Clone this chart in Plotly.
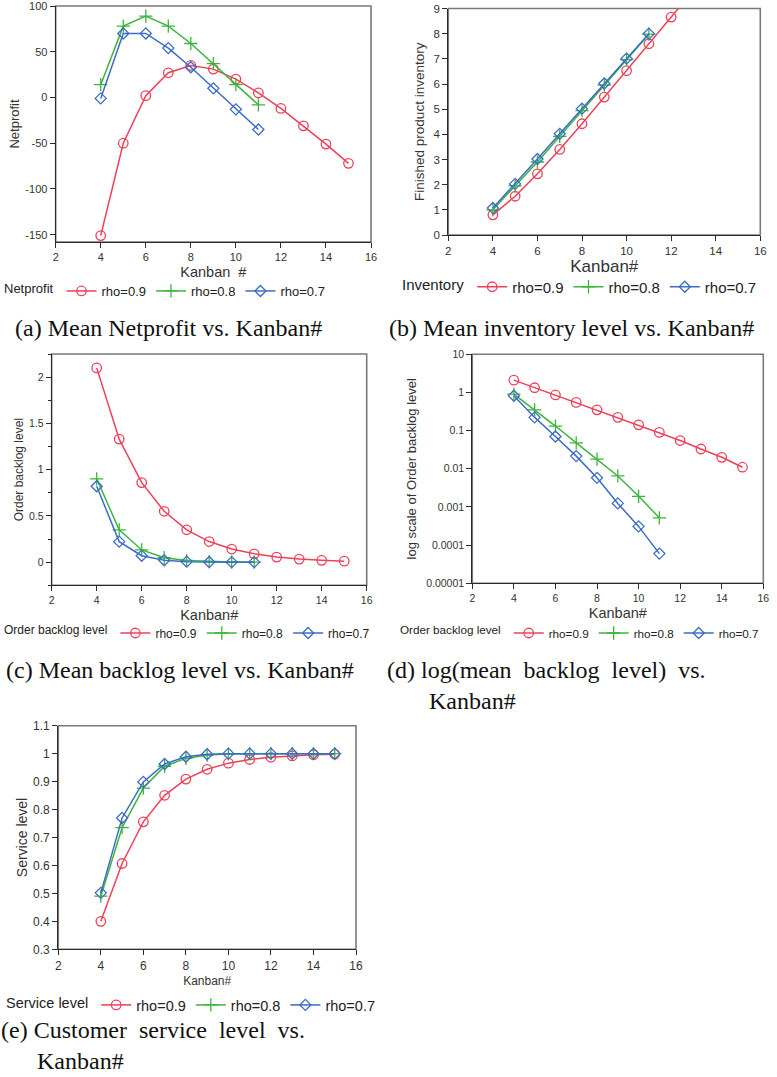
import plotly.graph_objects as go

# ---------------- data ----------------
kanban_long = [4, 5, 6, 7, 8, 9, 10, 11, 12, 13, 14, 15]
kanban_short = [4, 5, 6, 7, 8, 9, 10, 11]
series_names = ["rho=0.9", "rho=0.8", "rho=0.7"]

netprofit_09 = [-151, -50, 2, 27, 35, 31, 20, 5, -12, -31, -51, -72]
netprofit_08 = [14, 78, 89, 78, 59, 37, 14, -8]
netprofit_07 = [-1, 70, 70, 54, 33, 10, -13, -35]

inventory_09 = [0.80, 1.54, 2.43, 3.40, 4.42, 5.48, 6.53, 7.60, 8.66, 9.72, 10.78, 11.84]
inventory_08 = [1.00, 1.95, 2.90, 3.92, 4.94, 5.96, 6.97, 7.98]
inventory_07 = [1.07, 2.03, 3.02, 4.02, 5.02, 6.02, 7.01, 8.00]

backlog_09 = [2.10, 1.33, 0.86, 0.55, 0.35, 0.223, 0.142, 0.090, 0.055, 0.033, 0.020, 0.011]
backlog_08 = [0.90, 0.35, 0.132, 0.048, 0.018, 0.0065, 0.0019, 0.00052]
backlog_07 = [0.82, 0.222, 0.070, 0.0215, 0.0058, 0.00124, 0.00031, 0.00006]

service_09 = [0.400, 0.607, 0.756, 0.851, 0.909, 0.944, 0.966, 0.979, 0.987, 0.992, 0.996, 0.998]
service_08 = [0.490, 0.735, 0.877, 0.955, 0.983, 0.995, 0.999, 1.0, 1.0, 1.0, 1.0, 1.0]
service_07 = [0.502, 0.770, 0.899, 0.963, 0.989, 0.998, 1.0, 1.0, 1.0, 1.0, 1.0, 1.0]

x_ticks = [2, 4, 6, 8, 10, 12, 14, 16]
netprofit_ticks = [-150, -100, -50, 0, 50, 100]
netprofit_ticktext = ["-150", "-100", "-50", "0", "50", "100"]
log_ticks = [1e-5, 1e-4, 1e-3, 1e-2, 1e-1, 1, 10]
log_ticktext = ["0.00001", "0.0001", "0.001", "0.01", "0.1", "1", "10"]

SP = "\u00a0\u00a0"
captions = {
    "a": "(a) Mean Netprofit vs. Kanban#",
    "b": "(b) Mean inventory level vs. Kanban#",
    "c": "(c) Mean backlog level vs. Kanban#",
    "d": "(d) log(mean" + SP + "backlog" + SP + "level)" + SP + "vs.<br>" + "\u00a0" * 7 + "Kanban#",
    "e": "(e) Customer" + SP + "service" + SP + "level" + SP + "vs.<br>" + "\u00a0" * 6 + "Kanban#",
}

# ---------------- styling ----------------
W, H = 777, 1077
SANS = "Liberation Sans, Arial, sans-serif"
SERIF = "Liberation Serif, Times New Roman, serif"
colors = ["#ee4058", "#3db53d", "#3b6cc6"]
symbols = ["circle-open", "cross-thin-open", "diamond-open"]
msizes = [9.5, 9.5, 8.5]


def fx(p):
    return p / W


def fy(p):
    return 1 - p / H


panels = [
    dict(key="a", xs=[kanban_long, kanban_short, kanban_short],
         ys=[netprofit_09, netprofit_08, netprofit_07],
         xpx=(55.7, 371), ypx=(6, 242), yr=[-158, 100], ylog=False,
         ytitle="Netprofit", xtitle="Kanban\u00a0\u00a0#", tfs=11, xtfs=14.5, ytfs=13, ystand=2,
         legtitle="Netprofit", legx=2, legy=291, legfs=13,
         tickvals=netprofit_ticks, ticktext=netprofit_ticktext, minor=None,
         cap=(13, 328)),
    dict(key="b", xs=[kanban_long, kanban_short, kanban_short],
         ys=[inventory_09, inventory_08, inventory_07],
         xpx=(448.3, 760.3), ypx=(8.5, 235), yr=[0, 9], ylog=False,
         ytitle="Finished product inventory", xtitle="Kanban#", tfs=11.5, xtfs=17, ytfs=13.5, ystand=5,
         legtitle="Inventory", legx=400, legy=287, legfs=15,
         tickvals=None, ticktext=None, dtick=1, minor=None,
         cap=(387, 328)),
    dict(key="c", xs=[kanban_long, kanban_short, kanban_short],
         ys=[backlog_09, backlog_08, backlog_07],
         xpx=(51.7, 366.7), ypx=(354, 585.3), yr=[-0.25, 2.25], ylog=False,
         ytitle="Order backlog level", xtitle="Kanban#", tfs=10.5, xtfs=14.5, ytfs=12, ystand=2,
         legtitle="Order backlog level", legx=2, legy=633, legfs=12,
         tickvals=None, ticktext=None, dtick=0.5, minor=0.25,
         cap=(4, 670)),
    dict(key="d", xs=[kanban_long, kanban_short, kanban_short],
         ys=[backlog_09, backlog_08, backlog_07],
         xpx=(472.3, 763.3), ypx=(354.3, 583.3), yr=[-5, 1], ylog=True,
         ytitle="log scale of Order backlog level", xtitle="Kanban#", tfs=10.5, xtfs=14.5, ytfs=13, ystand=6,
         legtitle="Order backlog level", legx=398, legy=633, legfs=11.7,
         tickvals=log_ticks, ticktext=log_ticktext, minor=None,
         cap=(385, 685)),
    dict(key="e", xs=[kanban_long, kanban_long, kanban_long],
         ys=[service_09, service_08, service_07],
         xpx=(58.3, 356), ypx=(725.7, 949.3), yr=[0.3, 1.1], ylog=False,
         ytitle="Service level", xtitle="Kanban#", tfs=12, xtfs=12, ytfs=14, ystand=2,
         legtitle="Service level", legx=4, legy=1005, legfs=14.5,
         tickvals=None, ticktext=None, dtick=0.1, minor=None,
         cap=(-1, 1045)),
]

fig = go.Figure()
layout_updates = {}
shapes = []
annotations = []

for i, p in enumerate(panels):
    n = "" if i == 0 else str(i + 1)
    xa, ya = "x" + n, "y" + n
    leg = "legend" + n
    for s in range(3):
        fig.add_trace(go.Scatter(
            x=p["xs"][s], y=p["ys"][s], name=series_names[s],
            mode="lines+markers", xaxis=xa, yaxis=ya, legend=leg,
            line=dict(color=colors[s], width=1.5),
            marker=dict(symbol=symbols[s], size=msizes[s], color=colors[s],
                        line=dict(width=1.3, color=colors[s])),
        ))
    axis_common = dict(showline=True, linecolor="#2a2a2a", linewidth=1.2,
                       ticks="outside", ticklen=5, tickcolor="#2a2a2a", tickwidth=1,
                       showgrid=False, zeroline=False, mirror=False, automargin=False,
                       ticklabeloverflow="allow",
                       tickfont=dict(family=SANS, size=p["tfs"], color="#333"))
    xaxis = dict(axis_common, domain=[fx(p["xpx"][0]), fx(p["xpx"][1])],
                 range=[2, 16], tickvals=x_ticks, anchor=ya,
                 title=dict(text=p["xtitle"], font=dict(family=SANS, size=p["xtfs"], color="#333"),
                            standoff=4))
    yaxis = dict(axis_common, domain=[fy(p["ypx"][1]), fy(p["ypx"][0])],
                 range=p["yr"], anchor=xa,
                 title=dict(text=p["ytitle"], font=dict(family=SANS, size=p["ytfs"], color="#333"),
                            standoff=p["ystand"]))
    if p["ylog"]:
        yaxis["type"] = "log"
    if p["tickvals"] is not None:
        yaxis["tickvals"] = p["tickvals"]
        yaxis["ticktext"] = p["ticktext"]
    else:
        yaxis["dtick"] = p["dtick"]
        yaxis["tick0"] = 0
    if p["minor"]:
        yaxis["minor"] = dict(dtick=p["minor"], ticks="outside", ticklen=3, tickcolor="#2a2a2a")
    layout_updates["xaxis" + n] = xaxis
    layout_updates["yaxis" + n] = yaxis
    layout_updates[leg] = dict(
        orientation="h", x=fx(p["legx"]), xanchor="left", y=fy(p["legy"]), yanchor="middle",
        title=dict(text=p["legtitle"], side="left", font=dict(family=SANS, size=p["legfs"], color="#222")),
        font=dict(family=SANS, size=p["legfs"], color="#222"),
        bgcolor="rgba(0,0,0,0)", borderwidth=0, itemwidth=30, tracegroupgap=0,
    )
    shapes.append(dict(type="rect", xref=xa + " domain", yref=ya + " domain",
                       x0=0, x1=1, y0=0, y1=1, line=dict(color="#7a7a7a", width=1.6),
                       layer="below"))
    cx, cy = p["cap"]
    annotations.append(dict(text=captions[p["key"]], xref="paper", yref="paper", x=fx(cx), y=fy(cy),
                            xanchor="left", yanchor="middle", align="left", showarrow=False,
                            font=dict(family=SERIF, size=24, color="#111")))

fig.update_layout(
    width=W, height=H, margin=dict(l=0, r=0, t=0, b=0, autoexpand=False),
    paper_bgcolor="white", plot_bgcolor="white", hovermode=False,
    shapes=shapes, annotations=annotations, **layout_updates,
)

fig.write_html("out.html", config={"displayModeBar": False},
               post_script="document.body.style.margin='0px';document.body.style.padding='0px';")
